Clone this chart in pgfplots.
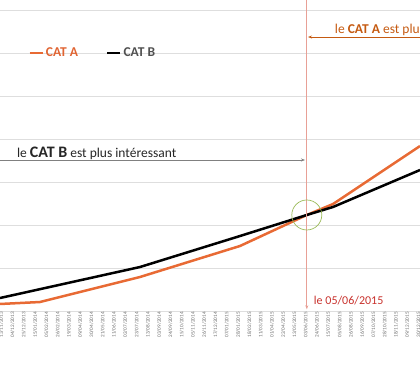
\documentclass[border=0pt]{standalone}
\usepackage{fontspec}
\setmainfont{Carlito}
\usepackage{pgfplots}
\pgfplotsset{compat=1.18}
\usetikzlibrary{arrows.meta}
\definecolor{catA}{RGB}{232,106,52}
\definecolor{catAtext}{RGB}{197,90,17}
\definecolor{legA}{RGB}{224,100,50}
\definecolor{legB}{RGB}{80,80,80}
\definecolor{vline}{RGB}{232,160,150}
\definecolor{datered}{RGB}{200,50,45}
\definecolor{circ}{RGB}{155,187,89}
\definecolor{gridc}{RGB}{222,222,222}
\definecolor{tickc}{RGB}{110,110,110}
\begin{document}
\begin{tikzpicture}[x=1pt,y=1pt,trim left=0pt,trim right=420pt]
\begin{axis}[
  at={(0,0)}, anchor=south west,
  scale only axis, width=420pt, height=311pt,
  xmin=-23.3, xmax=758.8, ymin=0, ymax=7.2326,
  axis x line*=bottom, axis y line*=left,
  x axis line style={draw=gridc, line width=0.8pt, -},
  y axis line style={draw=none},
  ytick={1,2,3,4,5,6,7}, yticklabels={},
  ytick style={draw=none},
  ymajorgrids, major grid style={draw=gridc, line width=0.8pt},
  xtick={-21,0,21,...,756},
  xtick style={draw=none},
  xticklabels={13/11/2013,04/12/2013,25/12/2013,15/01/2014,05/02/2014,26/02/2014,19/03/2014,09/04/2014,30/04/2014,21/05/2014,11/06/2014,02/07/2014,23/07/2014,13/08/2014,03/09/2014,24/09/2014,15/10/2014,05/11/2014,26/11/2014,17/12/2014,07/01/2015,28/01/2015,18/02/2015,11/03/2015,01/04/2015,22/04/2015,13/05/2015,03/06/2015,24/06/2015,15/07/2015,05/08/2015,26/08/2015,16/09/2015,07/10/2015,28/10/2015,18/11/2015,09/12/2015,30/12/2015},
  xticklabel style={rotate=90, anchor=east, font=\fontsize{5.2}{6}\selectfont, text=tickc, inner sep=1pt},
  legend columns=2,
  legend style={at={(axis description cs:0.060,0.829)}, anchor=west, draw=none, fill=none,
    font=\bfseries\fontsize{13.5}{15}\selectfont,
    /tikz/every even column/.append style={column sep=26pt}},
  legend image code/.code={\draw[#1, line width=2.5pt] (0pt,0pt) -- (13pt,0pt);},
]
\addplot[catA, line width=2.5pt] coordinates {
  (-23.3,0.163) (51.2,0.209) (237.4,0.791) (423.6,1.512) (548,2.233) (596.8,2.488) (758.8,3.837)
};
\addlegendentry[text=legA]{CAT A}
\addplot[black, line width=2.5pt] coordinates {
  (-23.3,0.302) (237.4,1.023) (423.6,1.744) (548,2.233) (596.8,2.419) (758.8,3.279)
};
\addlegendentry[text=legB]{CAT B}
% vertical date line
\draw[vline, line width=0.7pt, -{Stealth[length=4pt,width=3pt]}] (axis cs:548,7.2326) -- (axis cs:548,0.04);
\node[anchor=base west, text=datered, font=\fontsize{12}{14}\selectfont, inner sep=0pt] at (axis cs:561,0.16) {le 05/06/2015};
% CAT B arrow
\draw[gray, line width=0.7pt, -{Stealth[length=4pt,width=3pt]}] (axis cs:-23.3,3.512) -- (axis cs:544.7,3.512);
\node[anchor=base west, text=black!85, font=\fontsize{13.5}{16}\selectfont, inner sep=0pt] at (axis cs:8,3.581) {le {\bfseries\fontsize{16}{18}\selectfont CAT B} est plus intéressant};
% CAT A arrow
\draw[catAtext, line width=0.7pt, -{Stealth[length=4pt,width=3pt]}] (axis cs:758.8,6.372) -- (axis cs:550.3,6.372);
\node[anchor=base west, text=catAtext, font=\fontsize{13.5}{16}\selectfont, inner sep=0pt] at (axis cs:600,6.465) {le \textbf{CAT A} est plus intéressant};
% circle
\draw[circ, line width=0.7pt] (axis cs:548,2.233) circle[radius=15pt];
\end{axis}
\path (0,-54) rectangle (420,311);
\end{tikzpicture}
\end{document}
